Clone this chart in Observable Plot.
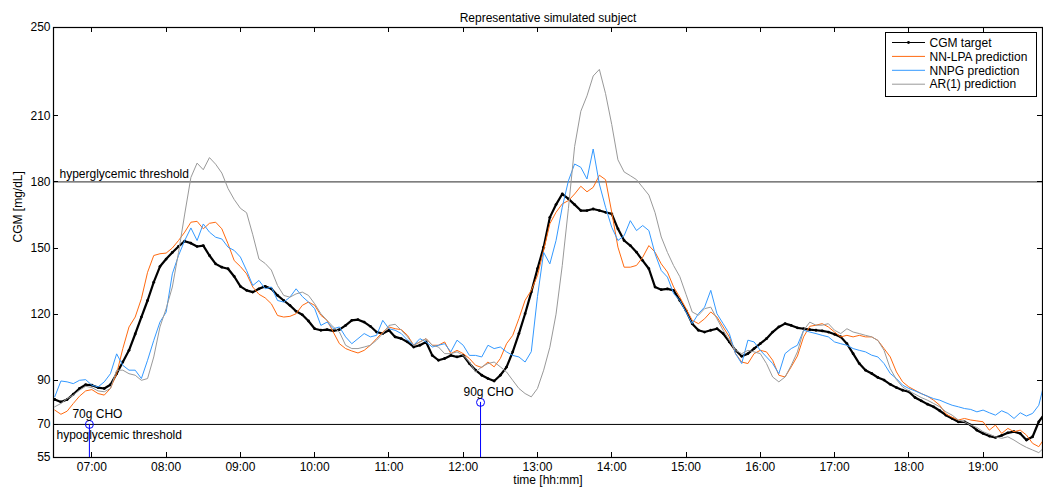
<!DOCTYPE html>
<html><head><meta charset="utf-8">
<script src="https://cdn.jsdelivr.net/npm/d3@7"></script>
<script src="https://cdn.jsdelivr.net/npm/@observablehq/plot@0.6"></script>
<style>
html,body{margin:0;padding:0;background:#fff;overflow:hidden}
#chart{width:1043px;height:493px}
</style></head><body><div id="chart"></div>
<script>
// ---- data ----
const startTime = "06:30";
const stepMinutes = 5;
const xDomain = ["06:29", "19:48"];
const yDomain = [55, 250];
const yTicks = [55, 70, 90, 120, 150, 180, 210, 250];
const xTickLabels = ["07:00","08:00","09:00","10:00","11:00","12:00","13:00","14:00","15:00","16:00","17:00","18:00","19:00"];

const cgmTarget = [
81.3, 80.2, 81.3, 83.7, 86.3, 88.0, 87.8, 86.7, 86.3, 88.0,
93.0, 98.3, 103.6, 111.0, 118.7, 126.2, 134.5, 141.6, 145.0, 148.0,
150.7, 153.1, 152.2, 150.7, 151.1, 146.6, 142.8, 141.3, 140.6, 137.1,
132.6, 130.8, 130.0, 131.5, 132.6, 131.5, 128.5, 126.2, 124.0, 121.3,
119.7, 116.9, 113.4, 112.7, 113.0, 112.4, 113.0, 114.9, 117.2, 117.5,
116.4, 114.5, 111.9, 111.2, 112.7, 109.7, 108.9, 107.4, 105.1, 105.9,
107.4, 101.3, 99.1, 99.9, 101.3, 100.6, 101.3, 97.6, 94.6, 92.3,
90.8, 89.7, 92.3, 96.0, 102.9, 111.2, 120.2, 130.0, 140.6, 150.4,
163.9, 169.7, 174.5, 172.3, 169.7, 167.0, 167.0, 167.7, 167.0, 166.2,
165.5, 158.7, 153.4, 151.1, 148.1, 144.3, 140.6, 132.3, 131.1, 131.5,
130.8, 126.2, 121.7, 115.7, 112.7, 111.9, 112.7, 113.4, 111.2, 107.4,
103.6, 100.9, 102.1, 104.4, 106.6, 108.9, 111.9, 114.2, 115.7, 114.9,
113.8, 113.4, 113.0, 112.7, 112.4, 111.9, 110.9, 109.7, 106.6, 102.1,
97.6, 94.6, 93.1, 91.3, 90.1, 88.2, 86.7, 85.5, 84.8, 82.2,
80.7, 79.2, 78.0, 76.2, 74.2, 72.7, 71.2, 71.2, 69.7, 67.4,
65.9, 64.7, 64.1, 65.0, 66.2, 66.7, 65.9, 62.9, 64.4, 71.2,
75.0];

const nnLpa = [
76.5, 74.6, 76.0, 79.5, 82.8, 85.2, 85.8, 84.0, 83.3, 86.3,
93.0, 104.4, 114.2, 118.7, 127.0, 139.0, 146.6, 147.4, 147.7, 150.0,
153.4, 157.2, 161.7, 162.1, 158.7, 161.2, 161.7, 158.7, 151.9, 144.3,
141.6, 138.3, 132.3, 129.0, 127.4, 124.7, 119.4, 118.7, 119.0, 120.2,
124.0, 125.5, 124.0, 119.5, 117.2, 111.9, 106.6, 104.4, 103.3, 102.4,
103.6, 105.9, 108.9, 111.9, 114.2, 113.4, 113.0, 110.4, 105.9, 107.4,
108.9, 105.9, 105.9, 107.4, 102.1, 103.6, 102.1, 99.9, 96.8, 95.8,
98.3, 96.1, 99.9, 106.6, 110.4, 118.0, 126.3, 130.8, 137.5, 149.0,
161.0, 166.2, 170.0, 171.5, 174.5, 178.0, 175.5, 177.5, 183.0, 181.0,
166.2, 150.4, 141.3, 141.3, 142.1, 145.8, 151.1, 148.1, 142.8, 139.1,
132.3, 127.7, 122.5, 117.2, 115.7, 117.9, 121.0, 118.7, 114.2, 109.7,
102.1, 98.3, 97.6, 102.1, 103.6, 102.9, 99.1, 92.3, 91.5, 96.1,
101.0, 109.7, 114.5, 115.0, 115.7, 114.2, 111.9, 109.7, 110.4, 109.7,
110.4, 109.7, 109.7, 108.1, 104.4, 100.6, 93.8, 89.3, 87.0, 85.5,
84.0, 82.8, 81.0, 78.7, 74.7, 73.2, 72.0, 72.7, 72.0, 71.6,
71.2, 67.4, 69.7, 65.9, 68.2, 66.7, 67.4, 65.2, 61.4, 59.9,
64.0];

const nnpg = [
82.5, 89.7, 89.3, 88.5, 90.0, 90.3, 87.8, 87.0, 89.3, 93.0,
102.0, 96.8, 94.6, 94.6, 90.8, 99.1, 108.1, 116.4, 120.9, 138.3,
146.6, 153.4, 159.1, 153.4, 160.9, 157.2, 154.9, 154.1, 150.4, 148.9,
145.9, 139.8, 133.0, 135.3, 131.5, 132.3, 126.2, 125.5, 127.7, 131.5,
128.0, 125.5, 122.5, 114.9, 116.4, 113.4, 114.2, 109.7, 106.6, 108.9,
111.2, 109.7, 110.4, 117.2, 113.4, 112.7, 111.2, 108.2, 105.9, 108.9,
107.4, 105.1, 105.9, 106.6, 102.9, 108.2, 105.9, 101.3, 101.3, 100.6,
105.9, 104.4, 105.1, 102.9, 101.3, 100.6, 98.3, 103.0, 128.0, 148.0,
142.8, 153.4, 168.5, 180.5, 188.1, 186.6, 181.3, 194.9, 179.0, 168.5,
159.4, 153.4, 155.6, 162.4, 157.9, 160.2, 157.9, 147.4, 139.8, 136.8,
129.3, 126.2, 121.0, 115.7, 120.2, 123.2, 130.8, 120.2, 115.7, 111.2,
102.1, 97.6, 108.2, 107.4, 103.6, 100.6, 97.6, 93.0, 102.1, 104.4,
105.9, 112.7, 111.9, 111.2, 110.4, 109.7, 107.4, 106.6, 105.9, 104.4,
103.6, 102.9, 101.4, 100.6, 97.6, 93.1, 90.8, 87.8, 86.3, 85.2,
84.0, 82.8, 81.7, 81.0, 79.8, 78.7, 78.0, 77.2, 76.8, 75.7,
76.5, 75.3, 74.2, 76.2, 75.0, 72.7, 75.3, 73.8, 75.0, 78.7,
90.0];

const ar1 = [
78.0, 79.5, 81.7, 83.3, 85.5, 87.3, 86.7, 85.2, 84.8, 86.3,
94.6, 94.6, 93.0, 92.3, 90.0, 90.8, 100.6, 114.2, 122.5, 132.3,
148.0, 165.4, 182.0, 188.5, 185.5, 191.0, 188.0, 184.0, 177.0, 172.0,
168.0, 166.0, 156.0, 145.0, 143.0, 140.0, 133.0, 128.5, 127.7, 129.2,
130.0, 128.5, 124.7, 120.2, 117.2, 114.2, 111.9, 105.9, 104.4, 104.4,
105.1, 105.9, 108.2, 111.2, 114.9, 115.4, 112.7, 109.7, 105.9, 107.4,
108.9, 105.9, 105.1, 102.1, 102.1, 102.9, 101.3, 98.3, 93.8, 96.1,
97.6, 98.3, 96.1, 93.8, 90.0, 86.3, 84.0, 82.5, 86.3, 94.6,
105.0, 120.0, 142.0, 168.0, 196.0, 212.0, 219.0, 228.0, 231.0, 220.0,
206.0, 190.0, 184.5, 182.8, 181.0, 177.5, 174.0, 166.0, 155.0, 148.0,
142.0, 137.0, 129.0, 121.0, 119.5, 122.5, 123.2, 117.9, 112.7, 108.2,
103.6, 102.1, 103.6, 102.9, 102.1, 97.6, 91.5, 89.3, 91.5, 96.8,
102.9, 112.7, 116.4, 115.0, 115.0, 115.7, 112.7, 111.2, 113.4, 111.9,
111.2, 110.4, 109.7, 108.1, 103.6, 95.3, 90.3, 87.0, 85.2, 83.7,
82.2, 81.0, 79.5, 78.0, 75.7, 74.2, 72.0, 71.2, 69.7, 68.6,
66.7, 65.6, 64.4, 63.7, 64.4, 62.9, 61.1, 59.6, 58.4, 57.2,
59.9];

const seriesNames = ["CGM target", "NN-LPA prediction", "NNPG prediction", "AR(1) prediction"];
const seriesColors = ["#000000", "#ff6a10", "#3399ff", "#999999"];

const mealLabels = ["70g CHO", "90g CHO"];
const mealTimes = ["06:58", "12:14"];
const mealMarkers = [70, 80];

const thresholdValues = [180, 70];
const thresholdLabels = ["hyperglycemic threshold", "hypoglycemic threshold"];

const titleText = "Representative simulated subject";
const xLabel = "time [hh:mm]";
const yLabel = "CGM [mg/dL]";

// ---- build ----
function toDate(hhmm) { const [h, m] = hhmm.split(":").map(Number); return new Date(Date.UTC(2000, 0, 1, h, m)); }
const t0 = toDate(startTime);
const allValues = [cgmTarget, nnLpa, nnpg, ar1];
const rows = seriesNames.map((name, s) => allValues[s].map((v, i) => ({series: name, t: new Date(+t0 + i * stepMinutes * 60000), v})));
const meals = mealLabels.map((label, i) => ({label, t: toDate(mealTimes[i]), v: mealMarkers[i]}));
const xTicks = xTickLabels.map(toDate);
const font = "'Liberation Sans', Arial, Helvetica, sans-serif";

const plot = Plot.plot({
  width: 1043, height: 493,
  marginLeft: 53, marginRight: 1, marginTop: 27, marginBottom: 36,
  style: {fontFamily: font, fontSize: "12px", background: "#fff", color: "#000", overflow: "visible"},
  x: {type: "utc", domain: xDomain.map(toDate), axis: null},
  y: {domain: yDomain, axis: null},
  marks: [
    Plot.ruleY([thresholdValues[0]], {stroke: "#555", strokeWidth: 1.4}),
    Plot.ruleY([thresholdValues[1]], {stroke: "#000", strokeWidth: 1}),
    Plot.text([thresholdLabels[0]], {x: () => toDate(xDomain[0]), y: () => thresholdValues[0], text: d => d, textAnchor: "start", dx: 6, dy: -8}),
    Plot.text([thresholdLabels[1]], {x: () => toDate(xDomain[0]), y: () => thresholdValues[1], text: d => d, textAnchor: "start", dx: 3, dy: 11}),
    Plot.ruleX(meals, {x: "t", y1: () => yDomain[0], y2: "v", stroke: "#0000ff", strokeWidth: 1}),
    Plot.dot(meals, {x: "t", y: "v", r: 4, stroke: "#0000ff", fill: "none", strokeWidth: 1}),
    Plot.text(meals, {x: "t", y: "v", text: "label", dx: 8, dy: -10}),
    Plot.line(rows[0], {x: "t", y: "v", stroke: seriesColors[0], strokeWidth: 2.2, clip: true}),
    Plot.dot(rows[0], {x: "t", y: "v", r: 1.4, fill: seriesColors[0], clip: true}),
    Plot.line(rows[1], {x: "t", y: "v", stroke: seriesColors[1], strokeWidth: 1, clip: true}),
    Plot.line(rows[2], {x: "t", y: "v", stroke: seriesColors[2], strokeWidth: 1, clip: true}),
    Plot.line(rows[3], {x: "t", y: "v", stroke: seriesColors[3], strokeWidth: 1, clip: true}),
    Plot.axisY(yTicks, {anchor: "left", tickSize: 0, tickPadding: 3, label: null}),
    Plot.axisX(xTicks, {anchor: "bottom", tickSize: 0, tickPadding: 5, tickFormat: d3.utcFormat("%H:%M"), label: null}),
    Plot.frame({stroke: "#000", strokeWidth: 1.2}),
    Plot.text([titleText], {frameAnchor: "top", dy: -14, text: d => d}),
    Plot.text([xLabel], {frameAnchor: "bottom", dy: 26, text: d => d}),
    Plot.text([yLabel], {frameAnchor: "left", dx: -35, rotate: -90, text: d => d})
  ]
});
document.getElementById("chart").appendChild(plot);

const svg = d3.select(plot);
const sx = plot.scale("x"), sy = plot.scale("y");
const [xl, xr] = sx.range, [yb, yt] = sy.range;
const tickLen = 5;

// inward ticks on all four sides, positioned with Plot's own scales
const tg = svg.append("g").attr("stroke", "#000").attr("stroke-width", 1);
xTicks.forEach(d => {
  const x = Math.round(sx.apply(d)) + 0.5;
  tg.append("line").attr("x1", x).attr("x2", x).attr("y1", yb).attr("y2", yb - tickLen);
  tg.append("line").attr("x1", x).attr("x2", x).attr("y1", yt).attr("y2", yt + tickLen);
});
yTicks.forEach(d => {
  const y = Math.round(sy.apply(d)) + 0.5;
  tg.append("line").attr("x1", xl).attr("x2", xl + tickLen).attr("y1", y).attr("y2", y);
  tg.append("line").attr("x1", xr).attr("x2", xr - tickLen).attr("y1", y).attr("y2", y);
});

// legend box (top-right, inside the frame)
const lg = svg.append("g").attr("font-family", font).attr("font-size", 12).attr("text-anchor", "start");
lg.append("rect").attr("x", 885.5).attr("y", 32.5).attr("width", 151).attr("height", 64)
  .attr("fill", "#fff").attr("stroke", "#000").attr("stroke-width", 1);
seriesNames.forEach((name, i) => {
  const y = 42.5 + i * 13.9;
  lg.append("line").attr("x1", 892).attr("x2", 925).attr("y1", y).attr("y2", y)
    .attr("stroke", seriesColors[i]).attr("stroke-width", 1);
  if (i === 0) lg.append("circle").attr("cx", 908.5).attr("cy", y).attr("r", 1.4).attr("fill", "#000");
  lg.append("text").attr("x", 929.5).attr("y", y).attr("dy", "0.35em").attr("text-anchor", "start").attr("fill", "#000").text(name);
});
</script></body></html>
